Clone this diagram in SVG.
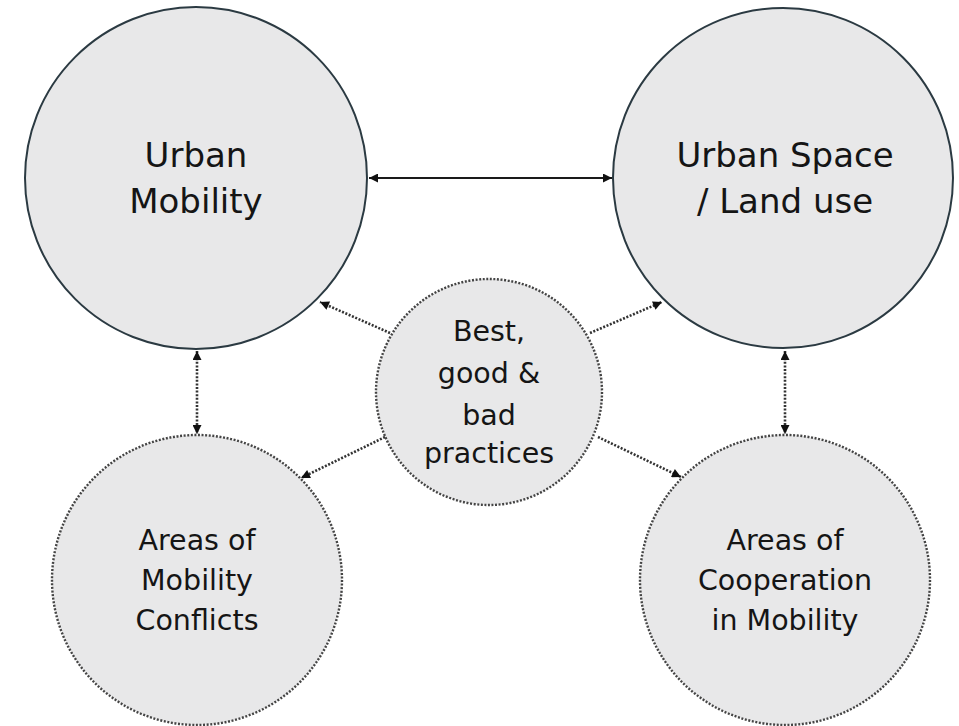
<svg xmlns="http://www.w3.org/2000/svg" width="959" height="726" viewBox="0 0 959 726">
<defs>
<style>
.main{fill:#e8e8e9;stroke:#2b3a42;stroke-width:2}
.dot{fill:#e8e8e9;stroke:#444;stroke-width:2.4;stroke-dasharray:2 1.6}
.lbl{font-family:"DejaVu Sans",sans-serif;fill:#151515;text-anchor:middle}
.big{font-size:34px}
.sm{font-size:28.5px}
.solid{stroke:#1a1a1a;stroke-width:2;fill:none}
.dl{stroke:#333;stroke-width:2.6;stroke-dasharray:2 1.6;fill:none}
</style>
<marker id="ah" viewBox="0 0 10 10" refX="10" refY="5" markerWidth="10" markerHeight="9" markerUnits="userSpaceOnUse" orient="auto-start-reverse">
<path d="M0,0 L10,5 L0,10 z" fill="#111"/>
</marker>
</defs>
<rect width="959" height="726" fill="#fff"/>
<g id="connectors">
<line class="solid" x1="369" y1="178" x2="612" y2="178" marker-start="url(#ah)" marker-end="url(#ah)"/>
<line class="dl" x1="197" y1="351" x2="197" y2="434" marker-start="url(#ah)" marker-end="url(#ah)"/>
<line class="dl" x1="785" y1="351" x2="785" y2="434" marker-start="url(#ah)" marker-end="url(#ah)"/>
<line class="dl" x1="390" y1="333" x2="320" y2="302" marker-end="url(#ah)"/>
<line class="dl" x1="590" y1="333" x2="662" y2="302" marker-end="url(#ah)"/>
<line class="dl" x1="385" y1="437" x2="301" y2="478" marker-end="url(#ah)"/>
<line class="dl" x1="598" y1="437" x2="681" y2="477" marker-end="url(#ah)"/>
</g>
<g id="urban-mobility">
<circle class="main" cx="196" cy="178" r="171"/>
<text class="lbl big" x="196" y="167">Urban</text>
<text class="lbl big" x="196" y="213">Mobility</text>
</g>
<g id="urban-space">
<circle class="main" cx="783" cy="178" r="170"/>
<text class="lbl big" x="785" y="167">Urban Space</text>
<text class="lbl big" x="785" y="213">/ Land use</text>
</g>
<g id="practices">
<circle class="dot" cx="489" cy="392" r="113"/>
<text class="lbl sm" x="489" y="341">Best,</text>
<text class="lbl sm" x="489" y="383">good &amp;</text>
<text class="lbl sm" x="489" y="425">bad</text>
<text class="lbl sm" x="489" y="463">practices</text>
</g>
<g id="conflicts">
<circle class="dot" cx="197" cy="580" r="145"/>
<text class="lbl sm" x="197" y="550">Areas of</text>
<text class="lbl sm" x="197" y="590">Mobility</text>
<text class="lbl sm" x="197" y="630">Conflicts</text>
</g>
<g id="cooperation">
<circle class="dot" cx="785" cy="580" r="145"/>
<text class="lbl sm" x="785" y="550">Areas of</text>
<text class="lbl sm" x="785" y="590">Cooperation</text>
<text class="lbl sm" x="785" y="630">in Mobility</text>
</g>
</svg>
